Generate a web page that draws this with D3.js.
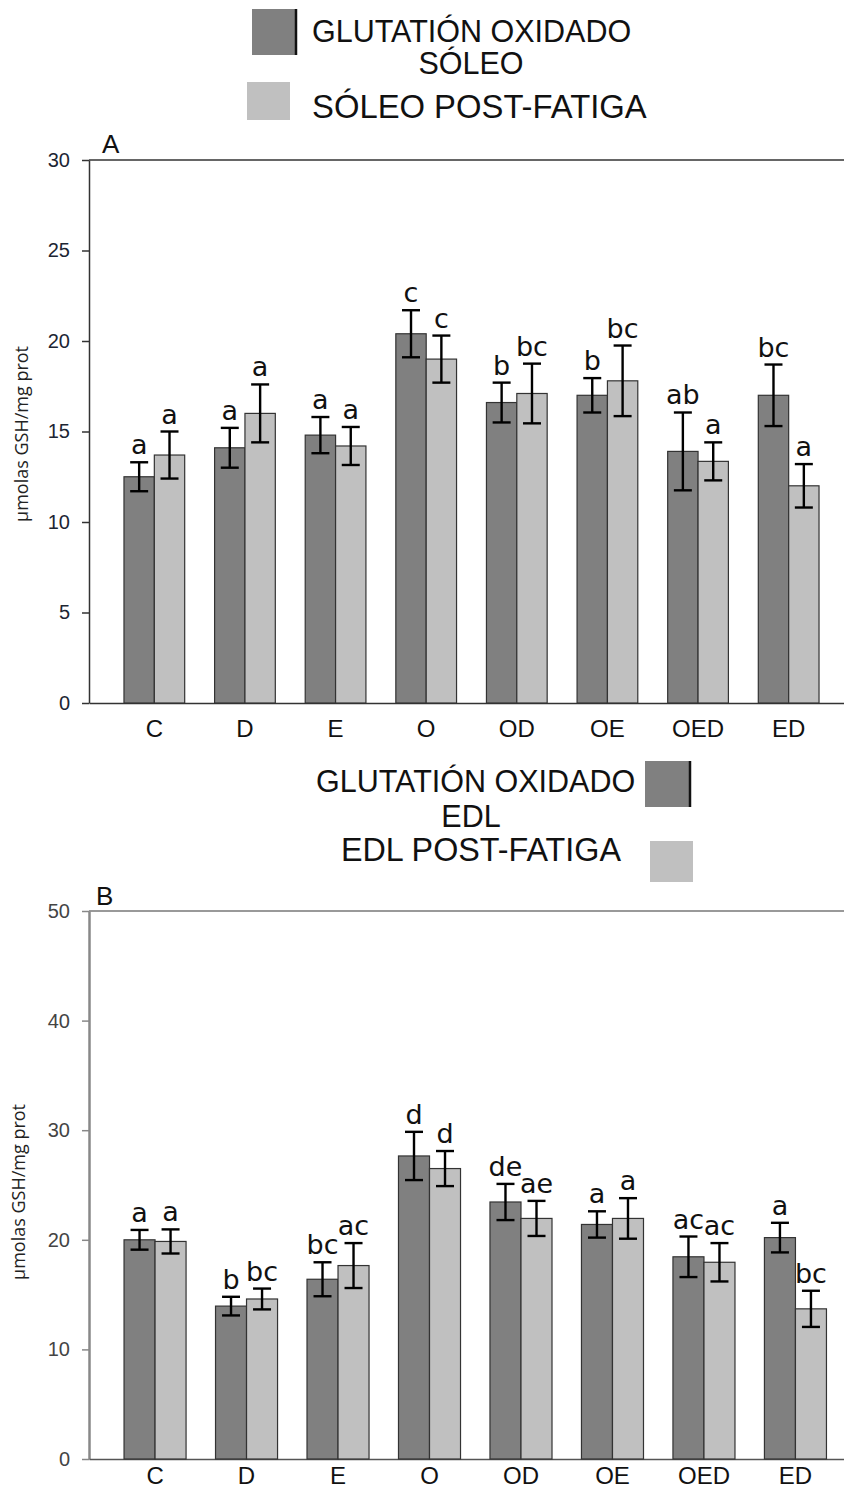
<html>
<head>
<meta charset="utf-8">
<script src="https://d3js.org/d3.v7.min.js"></script>
<style>
  body { margin: 0; background: #fff; }
  svg { display: block; font-family: "Liberation Sans", Arial, sans-serif; }
</style>
</head>
<body>
<script>
// grupos experimentales
var categories = ["C", "D", "E", "O", "OD", "OE", "OED", "ED"];

// Panel A: sóleo
var soleoOxidado = [12.5, 14.1, 14.8, 20.4, 16.6, 17.0, 13.9, 17.0];
var soleoOxidadoErr = [0.8, 1.1, 1.0, 1.3, 1.1, 0.95, 2.15, 1.7];
var soleoFatiga = [13.7, 16.0, 14.2, 19.0, 17.1, 17.8, 13.35, 12.0];
var soleoFatigaErr = [1.3, 1.6, 1.05, 1.3, 1.65, 1.95, 1.05, 1.2];
var soleoOxidadoLetras = ["a", "a", "a", "c", "b", "b", "ab", "bc"];
var soleoFatigaLetras = ["a", "a", "a", "c", "bc", "bc", "a", "a"];
var ticksA = [0, 5, 10, 15, 20, 25, 30];

// Panel B: EDL
var edlOxidado = [20.0, 13.95, 16.4, 27.65, 23.45, 21.4, 18.45, 20.2];
var edlOxidadoErr = [0.9, 0.85, 1.55, 2.2, 1.65, 1.2, 1.85, 1.35];
var edlFatiga = [19.85, 14.6, 17.65, 26.5, 21.95, 21.95, 17.95, 13.7];
var edlFatigaErr = [1.1, 0.95, 2.05, 1.6, 1.6, 1.85, 1.75, 1.65];
var edlOxidadoLetras = ["a", "b", "bc", "d", "de", "a", "ac", "a"];
var edlFatigaLetras = ["a", "bc", "ac", "d", "ae", "a", "ac", "bc"];
var ticksB = [0, 10, 20, 30, 40, 50];

var yTitle = "µmolas GSH/mg prot";
var colDark = "#808080";
var colLight = "#c0c0c0";

var width = 844;
var height = 1491;

var svg = d3.select("body").append("svg")
    .attr("width", width).attr("height", height)
    .style("overflow", "hidden");

function drawPanel(p) {
    var g = svg.append("g");

    var x = d3.scaleBand()
        .domain(categories)
        .range(p.xRange)
        .paddingInner(p.padIn)
        .paddingOuter(p.padOut);
    var xSub = d3.scaleBand()
        .domain([0, 1])
        .range([0, x.bandwidth()]);
    var y = d3.scaleLinear()
        .domain([0, d3.max(p.ticks)])
        .range([p.y0, p.y1]);

    // línea superior
    g.append("line")
        .attr("x1", p.xRange[0]).attr("x2", width)
        .attr("y1", p.y1).attr("y2", p.y1)
        .attr("stroke", p.frameColor).attr("stroke-width", 1.5);

    // eje Y
    var ay = g.append("g")
        .attr("transform", "translate(" + p.xRange[0] + ",0)")
        .call(d3.axisLeft(y).tickValues(p.ticks).tickSize(7).tickSizeOuter(0).tickPadding(12));
    ay.select(".domain").attr("stroke", p.yAxisColor).attr("stroke-width", p.yAxisWidth);
    ay.selectAll(".tick line").attr("stroke", p.yAxisColor).attr("stroke-width", 1.5);
    ay.selectAll(".tick text")
        .attr("font-size", 20)
        .attr("font-family", "Liberation Sans, Arial, sans-serif")
        .attr("fill", p.tickColor);

    // eje X
    var ax = g.append("g")
        .attr("transform", "translate(0," + p.y0 + ")")
        .call(d3.axisBottom(x).tickSize(0).tickSizeOuter(0).tickPadding(p.xLabelPad));
    ax.select(".domain").attr("stroke", p.xAxisColor).attr("stroke-width", 1.5);
    ax.selectAll(".tick text")
        .attr("font-size", 24)
        .attr("font-family", "Liberation Sans, Arial, sans-serif")
        .attr("fill", "#111");

    var series = [
        { vals: p.dark, errs: p.darkErr, letters: p.darkLetters, fill: colDark, k: 0 },
        { vals: p.light, errs: p.lightErr, letters: p.lightLetters, fill: colLight, k: 1 }
    ];

    series.forEach(function(s) {
        var data = categories.map(function(c, i) {
            return { cat: c, v: s.vals[i], e: s.errs[i], l: s.letters[i] };
        });
        var cx = function(d) { return x(d.cat) + xSub(s.k) + xSub.bandwidth() / 2; };

        g.append("g").selectAll("rect")
            .data(data).enter().append("rect")
            .attr("x", function(d) { return x(d.cat) + xSub(s.k); })
            .attr("y", function(d) { return y(d.v); })
            .attr("width", xSub.bandwidth())
            .attr("height", function(d) { return p.y0 - y(d.v); })
            .attr("fill", s.fill)
            .attr("stroke", "#333")
            .attr("stroke-width", 1.2);

        s.data = data;
        s.cx = cx;
    });

    series.forEach(function(s) {
        var eg = g.append("g").attr("stroke", "#000").attr("stroke-width", 2.4);
        eg.selectAll(".v").data(s.data).enter().append("line")
            .attr("x1", s.cx).attr("x2", s.cx)
            .attr("y1", function(d) { return y(d.v + d.e); })
            .attr("y2", function(d) { return y(d.v - d.e); });
        [1, -1].forEach(function(sign) {
            eg.selectAll(".c" + sign).data(s.data).enter().append("line")
                .attr("x1", function(d) { return s.cx(d) - 9; })
                .attr("x2", function(d) { return s.cx(d) + 9; })
                .attr("y1", function(d) { return y(d.v + sign * d.e); })
                .attr("y2", function(d) { return y(d.v + sign * d.e); });
        });

        g.append("g").selectAll("text")
            .data(s.data).enter().append("text")
            .attr("x", s.cx)
            .attr("y", function(d) { return y(d.v + d.e) - 8; })
            .attr("text-anchor", "middle")
            .attr("font-family", "DejaVu Sans, sans-serif")
            .attr("font-size", 27)
            .attr("fill", "#111")
            .text(function(d) { return d.l; });
    });

    // título eje Y
    g.append("text")
        .attr("transform", "translate(" + p.titleX + "," + p.titleY + ") rotate(-90)")
        .attr("text-anchor", "middle")
        .attr("font-family", "Open Sans, sans-serif")
        .attr("font-size", 18)
        .attr("fill", "#222")
        .text(yTitle);

    // letra del panel
    g.append("text")
        .attr("x", p.panelX).attr("y", p.panelY)
        .attr("font-size", 26)
        .attr("fill", "#111")
        .text(p.panelLabel);
}

drawPanel({
    dark: soleoOxidado, darkErr: soleoOxidadoErr, darkLetters: soleoOxidadoLetras,
    light: soleoFatiga, lightErr: soleoFatigaErr, lightLetters: soleoFatigaLetras,
    ticks: ticksA,
    xRange: [89, 854], padIn: 0.33, padOut: 0.386,
    y0: 703, y1: 160,
    xLabelPad: 17,
    frameColor: "#333", yAxisColor: "#333", yAxisWidth: 1.5, xAxisColor: "#333",
    tickColor: "#1c2533",
    titleX: 28, titleY: 434,
    panelLabel: "A", panelX: 102, panelY: 153
});

drawPanel({
    dark: edlOxidado, darkErr: edlOxidadoErr, darkLetters: edlOxidadoLetras,
    light: edlFatiga, lightErr: edlFatigaErr, lightLetters: edlFatigaLetras,
    ticks: ticksB,
    xRange: [89, 861.5], padIn: 0.322, padOut: 0.383,
    y0: 1459, y1: 911,
    xLabelPad: 8,
    frameColor: "#777", yAxisColor: "#888", yAxisWidth: 2.5, xAxisColor: "#555",
    tickColor: "#444",
    titleX: 25, titleY: 1192,
    panelLabel: "B", panelX: 96, panelY: 905
});

// leyendas
function legendBox(x0, y0, w, h, fill, edge) {
    svg.append("rect").attr("x", x0).attr("y", y0).attr("width", w).attr("height", h).attr("fill", fill);
    if (edge) {
        svg.append("line")
            .attr("x1", x0 + w - 1).attr("x2", x0 + w - 1)
            .attr("y1", y0).attr("y2", y0 + h)
            .attr("stroke", "#111").attr("stroke-width", 2.5);
    }
}
function legendText(x0, y0, size, txt, anchor) {
    svg.append("text")
        .attr("x", x0).attr("y", y0)
        .attr("font-size", size)
        .attr("text-anchor", anchor || "start")
        .attr("fill", "#111")
        .text(txt);
}

legendBox(252, 9, 45, 46, colDark, true);
legendBox(247, 82, 43, 38, colLight, false);
legendText(312, 42, 30.5, "GLUTATIÓN OXIDADO");
legendText(471, 74, 30.5, "SÓLEO", "middle");
legendText(312, 118, 32.8, "SÓLEO POST-FATIGA");

legendBox(645, 761, 46, 46, colDark, true);
legendBox(650, 841, 43, 41, colLight, false);
legendText(316, 792, 30.5, "GLUTATIÓN OXIDADO");
legendText(471, 827, 30.5, "EDL", "middle");
legendText(341, 861, 32.3, "EDL POST-FATIGA");
</script>
</body>
</html>
